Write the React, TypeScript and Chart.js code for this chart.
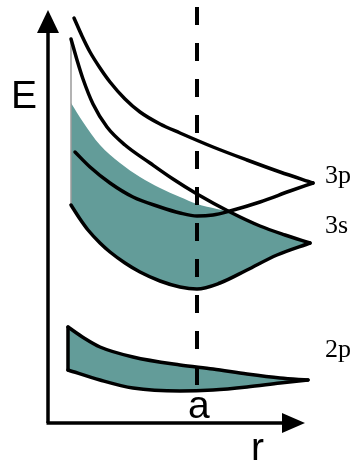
import React, { useEffect, useRef } from "react";
import { Chart, registerables } from "chart.js";

Chart.register(...registerables);

const band3sTopR = [71, 83, 100, 120, 140, 160, 180, 197, 217, 230, 260, 285, 310];
const band3sTopE = [361, 342, 319, 301, 287, 276, 267, 260, 255, 252, 238, 229, 221];
const band3sLowR = [71, 80, 88, 100, 110, 125, 140, 160, 180, 197, 220, 247, 277, 310];
const band3sLowE = [259, 245, 234, 221, 212, 201, 192, 183, 177, 175, 181, 194, 209, 221];

const curveAR = [74, 82, 90, 100, 110, 125, 140, 160, 180, 213, 247, 280, 313];
const curveAE = [446, 428, 412, 396, 382, 365, 352, 340, 331, 317, 304, 292, 281];
const curveBR = [71, 77, 83, 93, 107, 125, 150, 173, 197, 230, 260, 285, 310];
const curveBE = [425, 404, 385, 360, 337, 319, 301, 285, 270, 252, 238, 229, 221];
const curveCR = [75, 90, 110, 133, 160, 180, 197, 213, 230, 260, 290, 313];
const curveCE = [312, 297, 281, 267, 257, 251, 248, 249, 253, 262, 273, 281];

const band2pTopR = [68, 84, 100, 133, 180, 213, 247, 280, 308];
const band2pTopE = [137, 126, 117, 107, 99, 95, 90, 86, 84];
const band2pLowR = [68, 100, 133, 180, 213, 247, 280, 308];
const band2pLowE = [94, 84, 76, 73, 74, 77, 81, 84];

const edge2pR = [68, 68];
const edge2pE = [137, 94];
const edge3sR = [71, 71];
const edge3sE = [425, 259];

const latticeR = [197, 197];
const latticeE = [457, 79];

const axisYR = [48, 48];
const axisYE = [41, 432];
const axisXR = [46.5, 284];
const axisXE = [41, 41];

const arrowUp = { tipR: 48, tipE: 454, baseE: 431, half: 11 };
const arrowRight = { tipR: 305, tipE: 41, baseR: 282, half: 10 };

const labelTexts = ["E", "a", "r", "3p", "3s", "2p"];
const labelR = [11, 188, 251, 325, 325, 325];
const labelE = [356, 46, 4, 281, 231, 107];
const labelFonts = [
  "39px 'Liberation Sans', Arial, sans-serif",
  "39px 'Liberation Sans', Arial, sans-serif",
  "39px 'Liberation Sans', Arial, sans-serif",
  "26px 'Liberation Serif', 'Times New Roman', serif",
  "26px 'Liberation Serif', 'Times New Roman', serif",
  "26px 'Liberation Serif', 'Times New Roman', serif",
];

const TEAL = "#639c99";

const pts = (xs: number[], ys: number[]) => xs.map((x, i) => ({ x, y: ys[i] }));

const line = (xs: number[], ys: number[], extra: any = {}) => ({
  data: pts(xs, ys),
  borderColor: "#000",
  borderWidth: 3.5,
  pointRadius: 0,
  cubicInterpolationMode: "monotone",
  tension: 0.4,
  fill: false,
  borderCapStyle: "round",
  borderJoinStyle: "round",
  ...extra,
});

const decorPlugin = {
  id: "decor",
  afterDatasetsDraw(chart: any) {
    const ctx = chart.ctx;
    const xs = chart.scales.x;
    const ys = chart.scales.y;
    ctx.save();
    ctx.fillStyle = "#000";
    ctx.beginPath();
    ctx.moveTo(xs.getPixelForValue(arrowUp.tipR), ys.getPixelForValue(arrowUp.tipE));
    ctx.lineTo(xs.getPixelForValue(arrowUp.tipR - arrowUp.half), ys.getPixelForValue(arrowUp.baseE));
    ctx.lineTo(xs.getPixelForValue(arrowUp.tipR + arrowUp.half), ys.getPixelForValue(arrowUp.baseE));
    ctx.closePath();
    ctx.fill();
    ctx.beginPath();
    ctx.moveTo(xs.getPixelForValue(arrowRight.tipR), ys.getPixelForValue(arrowRight.tipE));
    ctx.lineTo(xs.getPixelForValue(arrowRight.baseR), ys.getPixelForValue(arrowRight.tipE + arrowRight.half));
    ctx.lineTo(xs.getPixelForValue(arrowRight.baseR), ys.getPixelForValue(arrowRight.tipE - arrowRight.half));
    ctx.closePath();
    ctx.fill();
    ctx.textBaseline = "alphabetic";
    ctx.textAlign = "left";
    labelTexts.forEach((t, i) => {
      ctx.font = labelFonts[i];
      ctx.fillText(t, xs.getPixelForValue(labelR[i]), ys.getPixelForValue(labelE[i]));
    });
    ctx.restore();
  },
};

export default function App() {
  const ref = useRef<HTMLCanvasElement>(null);
  useEffect(() => {
    if (!ref.current) return;
    const chart = new Chart(ref.current, {
      type: "line",
      data: {
        datasets: [
          line(band3sTopR, band3sTopE, {
            borderColor: "rgba(0,0,0,0)",
            borderWidth: 0,
            fill: { target: 1 },
            backgroundColor: TEAL,
          }),
          line(band3sLowR, band3sLowE),
          line(band2pTopR, band2pTopE, { fill: { target: 3 }, backgroundColor: TEAL }),
          line(band2pLowR, band2pLowE),
          line(curveAR, curveAE),
          line(curveBR, curveBE),
          line(curveCR, curveCE),
          line(edge2pR, edge2pE, { tension: 0, cubicInterpolationMode: "default" }),
          line(edge3sR, edge3sE, { tension: 0, cubicInterpolationMode: "default", borderWidth: 1.5, borderColor: "#9a9a9a" }),
          line(latticeR, latticeE, { tension: 0, cubicInterpolationMode: "default", borderWidth: 4, borderDash: [18, 18], borderCapStyle: "butt" }),
          line(axisYR, axisYE, { tension: 0, cubicInterpolationMode: "default", borderCapStyle: "butt" }),
          line(axisXR, axisXE, { tension: 0, cubicInterpolationMode: "default", borderCapStyle: "butt" }),
        ] as any,
      },
      options: {
        animation: false,
        responsive: false,
        events: [],
        layout: { padding: 0 },
        scales: {
          x: { type: "linear", min: 0, max: 359, display: false },
          y: { type: "linear", min: 0, max: 464, display: false },
        },
        plugins: {
          legend: { display: false },
          tooltip: { enabled: false },
          filler: { drawTime: "beforeDatasetsDraw" },
        } as any,
      },
      plugins: [decorPlugin],
    });
    return () => chart.destroy();
  }, []);
  return (
    <div style={{ position: "fixed", left: 0, top: 0, width: 359, height: 464, background: "#fff" }}>
      <canvas ref={ref} width={359} height={464} style={{ display: "block" }} />
    </div>
  );
}
